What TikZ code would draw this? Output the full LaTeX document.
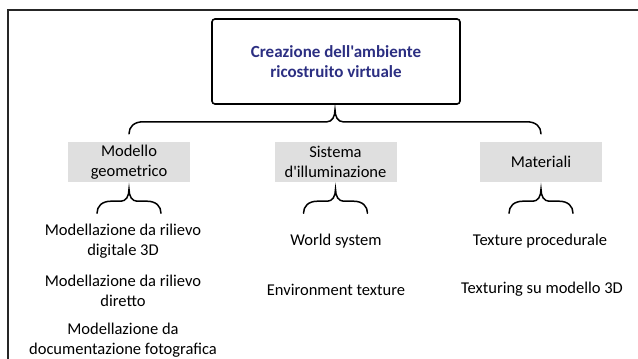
\documentclass[tikz,border=0pt]{standalone}
\usepackage{fontspec}
\setmainfont{Carlito}[Ligatures=TeXOff]
\usetikzlibrary{positioning,calc}
\definecolor{titleblue}{RGB}{44,47,130}
\definecolor{boxgray}{RGB}{223,223,223}

\begin{document}
\begin{tikzpicture}[
    x=1pt, y=-1pt,
    txt/.style={font=\fontsize{16.5}{19.5}\selectfont, align=center, inner sep=0pt},
    rootbox/.style={draw, line width=1.6pt, rounded corners=3pt, minimum width=248pt, minimum height=85pt, align=center, text=titleblue, font=\bfseries\fontsize{17}{19.5}\selectfont},
    catbox/.style={txt, fill=boxgray, minimum width=122pt, minimum height=40pt},
    frame/.style={line width=1.4pt, draw=black!85},
    curly/.style={line width=1.5pt, line cap=round, to path={
        let \p1=(\tikztostart), \p2=(\tikztotarget), \p3=($(\p1)!0.5!(\p2)$) in
        (\p1) .. controls (\x1,\y1+7pt) and (\x1+5pt,\y1+12pt) .. (\x1+14pt,\y1+12pt)
        -- (\x3-8pt,\y1+12pt) .. controls (\x3-3pt,\y1+12pt) and (\x3,\y1+17pt) .. (\x3,\y1+24pt)
        .. controls (\x3,\y1+17pt) and (\x3+3pt,\y1+12pt) .. (\x3+8pt,\y1+12pt)
        -- (\x2-14pt,\y1+12pt) .. controls (\x2-5pt,\y1+12pt) and (\x2,\y1+7pt) .. (\p2)
    }},
]
    \useasboundingbox (0,0) rectangle (638,359);
    \draw[frame] (638,10) -- (8,10) -- (8,359);

    % root and categories
    \node[rootbox] (root) at (336,61.5) {Creazione dell'ambiente\\ricostruito virtuale};
    \node[catbox] (geo) at (129,162) {Modello\\geometrico};
    \node[catbox] (ill) at (335.5,162) {Sistema\\d'illuminazione};
    \node[catbox] (mat) at (541,162) {Materiali};

    \draw[curly] ([yshift=8pt]geo.north) to ([yshift=8pt]mat.north);
    \foreach \c in {geo,ill,mat}
        \draw[curly] ([shift={(-32,31)}]\c.south) to ([shift={(32,31)}]\c.south);

    % leaves
    \node[txt] (geo1) at (123,241) {Modellazione da rilievo\\digitale 3D};
    \node[txt] (geo2) at (123,291) {Modellazione da rilievo\\diretto};
    \node[txt] (geo3) at (123,340) {Modellazione da\\documentazione fotografica};
    \node[txt] (ill1) at (336,241) {World system};
    \node[txt] (ill2) at (336,290) {Environment texture};
    \node[txt] (mat1) at (540,241) {Texture procedurale};
    \node[txt] (mat2) at (542,289) {Texturing su modello 3D};

\end{tikzpicture}
\end{document}
